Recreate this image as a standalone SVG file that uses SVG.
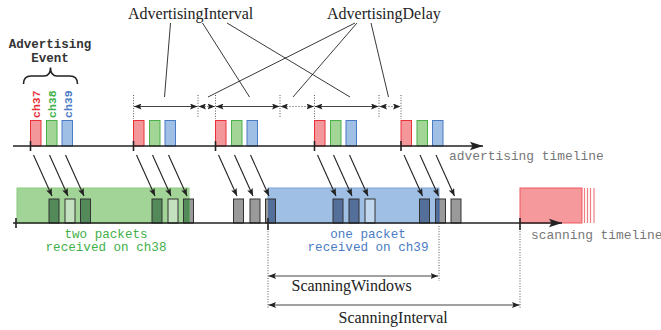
<svg xmlns="http://www.w3.org/2000/svg" width="661" height="330" viewBox="0 0 661 330">
  <style>
    .serif { font-family: "Liberation Serif", "Times New Roman", serif; font-size: 16px; fill: #222; }
    .mono { font-family: "Liberation Mono", "Courier New", monospace; }
    .axis { stroke: #222; stroke-width: 1.6; fill: none; }
    .tick { stroke: #222; stroke-width: 1.6; }
    .guide { stroke: #444; stroke-width: 0.9; stroke-dasharray: 1 1.6; fill: none; }
    .dim { stroke: #444; stroke-width: 1; fill: none; marker-start: url(#dimHead); marker-end: url(#dimHead); }
    .dimdot { stroke: #444; stroke-width: 1; stroke-dasharray: 1 2; fill: none; marker-start: url(#dimHead); marker-end: url(#dimHead); }
    .leader { stroke: #222; stroke-width: 0.9; fill: none; }
    .feed { stroke: #222; stroke-width: 1.1; fill: none; marker-end: url(#feedHead); }
    .r { fill: #f4979b; stroke: #e8323a; stroke-width: 1; }
    .g { fill: #a3d597; stroke: #49b04a; stroke-width: 1; }
    .b { fill: #a0bfe4; stroke: #4a7bc4; stroke-width: 1; }
    .pk { stroke: #333; stroke-width: 1; }
    .dg { fill: #54895a; }
    .lg { fill: #c4e2bf; }
    .gy { fill: #9a9a9a; }
    .db { fill: #546f9a; }
    .lb { fill: #c2d8ef; }
  </style>
  <defs>
    <marker id="axisHead" markerUnits="userSpaceOnUse" markerWidth="14" markerHeight="10" refX="13" refY="5" orient="auto">
      <path d="M0,0.8 L13,5 L0,9.2 L2.5,5 Z" fill="#222"/>
    </marker>
    <marker id="dimHead" markerUnits="userSpaceOnUse" markerWidth="8" markerHeight="6" refX="7.5" refY="3" orient="auto-start-reverse">
      <path d="M0,0 L7.5,3 L0,6 L1.5,3 Z" fill="#222"/>
    </marker>
    <marker id="feedHead" markerUnits="userSpaceOnUse" markerWidth="8" markerHeight="6" refX="7.5" refY="3" orient="auto">
      <path d="M0,0 L7.5,3 L0,6 L1.5,3 Z" fill="#222"/>
    </marker>
  </defs>

  <!-- labels at the top -->
  <g id="label-adv-interval"><text class="serif" x="128" y="19">AdvertisingInterval</text></g>
  <g id="label-adv-delay"><text class="serif" x="327" y="19">AdvertisingDelay</text></g>

  <!-- advertising event brace and caption -->
  <g id="adv-event">
    <text class="mono" font-size="12.5" font-weight="bold" fill="#333" text-anchor="middle" x="50" y="48">Advertising</text>
    <text class="mono" font-size="12.5" font-weight="bold" fill="#333" text-anchor="middle" x="50" y="62">Event</text>
    <path d="M23.5,84 Q23.5,76 31,76 L44,76 Q50.5,76 50.5,67.5 Q50.5,76 57,76 L70,76 Q77.5,76 77.5,84" fill="none" stroke="#222" stroke-width="1.6"/>
  </g>

  <!-- channel labels -->
  <g id="channel-labels" class="mono" font-size="11.5" font-weight="bold">
    <text transform="translate(40,118) rotate(-90)" fill="#e8323a">ch37</text>
    <text transform="translate(56,118) rotate(-90)" fill="#3fb04a">ch38</text>
    <text transform="translate(71.5,118) rotate(-90)" fill="#4a7bc4">ch39</text>
  </g>

  <!-- interval boundary guides -->
  <g id="guides">
    <line class="guide" x1="133.5" y1="95" x2="133.5" y2="119"/>
    <line class="guide" x1="198" y1="95" x2="198" y2="117"/>
    <line class="guide" x1="215.5" y1="95" x2="215.5" y2="119"/>
    <line class="guide" x1="280" y1="95" x2="280" y2="117"/>
    <line class="guide" x1="314.5" y1="95" x2="314.5" y2="119"/>
    <line class="guide" x1="379" y1="95" x2="379" y2="117"/>
    <line class="guide" x1="401" y1="95" x2="401" y2="119"/>
    <line class="guide" x1="268" y1="226" x2="268" y2="309"/>
    <line class="guide" x1="439" y1="226" x2="439" y2="281"/>
    <line class="guide" x1="520" y1="226" x2="520" y2="309"/>
  </g>

  <!-- advertising events -->
  <g id="event-1">
    <rect class="r" x="30.5" y="120.5" width="10.5" height="25.5"/>
    <rect class="g" x="46.5" y="120.5" width="10.5" height="25.5"/>
    <rect class="b" x="62" y="120.5" width="10.5" height="25.5"/>
  </g>
  <g id="event-2">
    <rect class="r" x="133.5" y="120.5" width="10.5" height="25.5"/>
    <rect class="g" x="149.5" y="120.5" width="10.5" height="25.5"/>
    <rect class="b" x="165" y="120.5" width="10.5" height="25.5"/>
  </g>
  <g id="event-3">
    <rect class="r" x="215.5" y="120.5" width="10.5" height="25.5"/>
    <rect class="g" x="231.5" y="120.5" width="10.5" height="25.5"/>
    <rect class="b" x="247" y="120.5" width="10.5" height="25.5"/>
  </g>
  <g id="event-4">
    <rect class="r" x="314.5" y="120.5" width="10.5" height="25.5"/>
    <rect class="g" x="330.5" y="120.5" width="10.5" height="25.5"/>
    <rect class="b" x="346" y="120.5" width="10.5" height="25.5"/>
  </g>
  <g id="event-5">
    <rect class="r" x="401" y="120.5" width="10.5" height="25.5"/>
    <rect class="g" x="417" y="120.5" width="10.5" height="25.5"/>
    <rect class="b" x="432.5" y="120.5" width="10.5" height="25.5"/>
  </g>

  <!-- advertising timeline -->
  <g id="advertising-timeline">
    <line class="axis" x1="13" y1="146" x2="483" y2="146" marker-end="url(#axisHead)"/>
    <line class="tick" x1="30.5" y1="141" x2="30.5" y2="151"/>
    <line class="tick" x1="133.5" y1="141" x2="133.5" y2="151"/>
    <line class="tick" x1="215.5" y1="141" x2="215.5" y2="151"/>
    <line class="tick" x1="314.5" y1="141" x2="314.5" y2="151"/>
    <line class="tick" x1="401" y1="141" x2="401" y2="151"/>
    <text class="mono" font-size="12.9" fill="#777" x="449" y="160">advertising timeline</text>
  </g>

  <!-- scan windows -->
  <g id="window-ch38">
    <rect x="17" y="188" width="172" height="35" fill="#a3d497" stroke="#8ccc80" stroke-width="1"/>
  </g>
  <g id="window-ch39">
    <rect x="268" y="188" width="171" height="35" fill="#9fbfe5" stroke="#7ea3d6" stroke-width="1"/>
  </g>
  <g id="window-ch37">
    <rect x="520" y="188" width="62" height="35" fill="#f5999c" stroke="#ee5a60" stroke-width="1"/>
    <g stroke="#f07e83" stroke-width="1.2">
      <line x1="584.5" y1="188" x2="584.5" y2="223"/>
      <line x1="587.5" y1="188" x2="587.5" y2="223"/>
      <line x1="590.5" y1="188" x2="590.5" y2="223"/>
      <line x1="594" y1="188" x2="594" y2="223"/>
    </g>
  </g>

  <!-- packets seen by the scanner -->
  <g id="rx-1">
    <rect class="pk dg" x="49" y="199" width="10" height="24"/>
    <rect class="pk lg" x="65" y="199" width="10" height="24"/>
    <rect class="pk dg" x="80.5" y="199" width="10" height="24"/>
  </g>
  <g id="rx-2">
    <rect class="pk dg" x="152" y="199" width="10" height="24"/>
    <rect class="pk lg" x="168" y="199" width="10" height="24"/>
    <rect class="gy" x="183.5" y="199" width="10" height="24"/>
    <rect class="dg" x="183.5" y="199" width="5.5" height="24"/>
    <line x1="189" y1="199" x2="189" y2="223" stroke="#3c9a3c" stroke-width="1"/>
    <rect x="183.5" y="199" width="10" height="24" fill="none" stroke="#333" stroke-width="1"/>
  </g>
  <g id="rx-3">
    <rect class="pk gy" x="233.5" y="199" width="10" height="24"/>
    <rect class="pk gy" x="250" y="199" width="10" height="24"/>
    <rect class="gy" x="265.5" y="199" width="10" height="24"/>
    <rect class="db" x="268" y="199" width="7.5" height="24"/>
    <rect x="265.5" y="199" width="10" height="24" fill="none" stroke="#333" stroke-width="1"/>
  </g>
  <g id="rx-4">
    <rect class="pk db" x="333" y="199" width="10" height="24"/>
    <rect class="pk db" x="349" y="199" width="10" height="24"/>
    <rect class="pk lb" x="365" y="199" width="10" height="24"/>
  </g>
  <g id="rx-5">
    <rect class="pk db" x="419.5" y="199" width="10" height="24"/>
    <rect class="gy" x="435.5" y="199" width="10" height="24"/>
    <rect class="db" x="435.5" y="199" width="3.5" height="24"/>
    <line x1="439" y1="199" x2="439" y2="223" stroke="#3a5f9c" stroke-width="1"/>
    <rect x="435.5" y="199" width="10" height="24" fill="none" stroke="#333" stroke-width="1"/>
    <rect class="pk gy" x="451" y="199" width="10" height="24"/>
  </g>

  <!-- scanning timeline -->
  <g id="scanning-timeline">
    <line class="axis" x1="13" y1="223" x2="562" y2="223" marker-end="url(#axisHead)"/>
    <line class="tick" x1="16" y1="218" x2="16" y2="228"/>
    <line class="tick" x1="268" y1="218" x2="268" y2="230"/>
    <line class="tick" x1="520" y1="218" x2="520" y2="230"/>
    <text class="mono" font-size="12.9" fill="#777" x="531" y="239">scanning timeline</text>
  </g>

  <!-- result captions -->
  <g id="caption-ch38" class="mono" font-size="12.6" fill="#3fb04a" text-anchor="middle">
    <text x="106" y="238">two packets</text>
    <text x="106" y="251">received on ch38</text>
  </g>
  <g id="caption-ch39" class="mono" font-size="12.6" fill="#4a7bc4" text-anchor="middle">
    <text x="368" y="238">one packet</text>
    <text x="368" y="251">received on ch39</text>
  </g>

  <!-- scanning dimensions -->
  <g id="label-scan-windows"><text class="serif" x="291.5" y="291">ScanningWindows</text></g>
  <g id="label-scan-interval"><text class="serif" x="338.5" y="323">ScanningInterval</text></g>

  <g id="connectors">
    <!-- advertising interval / delay dimensions -->
    <line class="dim" x1="134" y1="106.5" x2="197.5" y2="106.5"/>
    <line class="dimdot" x1="198.5" y1="106.5" x2="215" y2="106.5"/>
    <line class="dim" x1="216" y1="106.5" x2="279.5" y2="106.5"/>
    <line class="dimdot" x1="280.5" y1="106.5" x2="314" y2="106.5"/>
    <line class="dim" x1="315" y1="106.5" x2="378.5" y2="106.5"/>
    <line class="dimdot" x1="379.5" y1="106.5" x2="400.5" y2="106.5"/>

    <!-- leaders from the labels -->
    <line class="leader" x1="170.5" y1="23" x2="164.5" y2="97"/>
    <line class="leader" x1="202.5" y1="23" x2="249.5" y2="97"/>
    <line class="leader" x1="227" y1="23" x2="350" y2="97"/>
    <line class="leader" x1="355" y1="23" x2="208" y2="97"/>
    <line class="leader" x1="357" y1="23" x2="293" y2="97"/>
    <line class="leader" x1="371" y1="23" x2="388.5" y2="97"/>

    <!-- packets travelling to the scanner -->
    <line class="feed" x1="33.5" y1="155" x2="52" y2="196"/>
    <line class="feed" x1="49.5" y1="155" x2="68" y2="196"/>
    <line class="feed" x1="65.5" y1="155" x2="84" y2="196"/>
    <line class="feed" x1="136.5" y1="155" x2="155" y2="196"/>
    <line class="feed" x1="152.5" y1="155" x2="171" y2="196"/>
    <line class="feed" x1="168.5" y1="155" x2="187" y2="196"/>
    <line class="feed" x1="218.5" y1="155" x2="237" y2="196"/>
    <line class="feed" x1="234.5" y1="155" x2="253" y2="196"/>
    <line class="feed" x1="250.5" y1="155" x2="269" y2="196"/>
    <line class="feed" x1="317.5" y1="155" x2="336" y2="196"/>
    <line class="feed" x1="333.5" y1="155" x2="352" y2="196"/>
    <line class="feed" x1="349.5" y1="155" x2="368" y2="196"/>
    <line class="feed" x1="404" y1="155" x2="422.5" y2="196"/>
    <line class="feed" x1="420" y1="155" x2="438.5" y2="196"/>
    <line class="feed" x1="436" y1="155" x2="454.5" y2="196"/>

    <!-- scanning window / interval dimensions -->
    <line class="dim" x1="268.5" y1="276" x2="438" y2="276"/>
    <line class="dim" x1="268.5" y1="305" x2="519.5" y2="305"/>
  </g>
</svg>
